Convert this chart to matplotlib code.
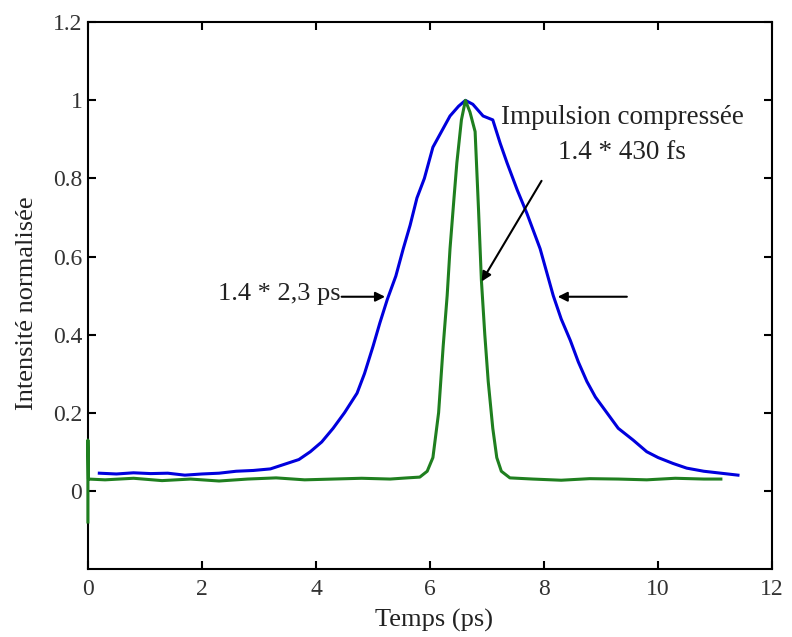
import matplotlib
matplotlib.use("Agg")
import matplotlib.pyplot as plt

plt.rcParams['font.family'] = ['Liberation Serif', 'DejaVu Serif']

# blue: initial pulse
blue_t = [0.2, 0.5, 0.8, 1.1, 1.4, 1.7, 2.0, 2.3, 2.6, 2.9, 3.2, 3.45, 3.7, 3.9, 4.1,
          4.3, 4.5, 4.72, 4.85, 5.0, 5.12, 5.25, 5.4, 5.53, 5.65, 5.77, 5.9, 6.05,
          6.2, 6.35, 6.5, 6.62, 6.75, 6.93, 7.1, 7.23, 7.35, 7.53, 7.7, 7.93, 8.16,
          8.3, 8.46, 8.6, 8.75, 8.9, 9.1, 9.3, 9.56, 9.8, 10.0, 10.26, 10.5, 10.8,
          11.1, 11.4]
blue_y = [0.045, 0.043, 0.046, 0.044, 0.045, 0.04, 0.043, 0.045, 0.05, 0.052, 0.056,
          0.068, 0.08, 0.10, 0.125, 0.16, 0.2, 0.25, 0.30, 0.37, 0.43, 0.49, 0.55,
          0.62, 0.68, 0.75, 0.80, 0.88, 0.92, 0.96, 0.985, 1.0, 0.99, 0.96, 0.95,
          0.89, 0.84, 0.77, 0.71, 0.62, 0.50, 0.44, 0.385, 0.33, 0.28, 0.24, 0.20,
          0.16, 0.13, 0.10, 0.085, 0.07, 0.058, 0.05, 0.045, 0.04]

# green: compressed pulse
green_t = [0.0, 0.0, 0.01, 0.3, 0.8, 1.3, 1.8, 2.3, 2.8, 3.3, 3.8, 4.3, 4.8, 5.3, 5.6,
           5.82, 5.95, 6.05, 6.15, 6.23, 6.3, 6.35, 6.42, 6.47, 6.55, 6.62, 6.7, 6.79,
           6.85, 6.9, 6.96, 7.02, 7.1, 7.17, 7.25, 7.4, 7.8, 8.3, 8.8, 9.3, 9.8, 10.3,
           10.8, 11.1]
green_y = [-0.08, 0.13, 0.03, 0.028, 0.032, 0.026, 0.03, 0.025, 0.03, 0.033, 0.028, 0.03,
           0.032, 0.03, 0.033, 0.035, 0.05, 0.085, 0.2, 0.37, 0.5, 0.62, 0.75, 0.84,
           0.95, 1.0, 0.97, 0.92, 0.72, 0.54, 0.4, 0.28, 0.16, 0.085, 0.05, 0.033, 0.03,
           0.027, 0.031, 0.03, 0.028, 0.032, 0.03, 0.03]

xticks = [0, 2, 4, 6, 8, 10, 12]
yticks = [0, 0.2, 0.4, 0.6, 0.8, 1.0, 1.2]
ylabels = ['0', '0.2', '0.4', '0.6', '0.8', '1', '1.2']

fig = plt.figure(figsize=(7.92, 6.37), dpi=100)
ax = fig.add_axes([0.111, 0.107, 0.864, 0.858])

ax.plot(blue_t, blue_y, color='#0000dd', lw=2.2)
ax.plot(green_t, green_y, color='#1f7f1f', lw=2.2, clip_on=False, zorder=3)

ax.set_xlim(0, 12)
ax.set_ylim(-0.2, 1.2)
ax.set_xticks(xticks)
ax.set_xticklabels([str(v) for v in xticks])
ax.set_yticks(yticks)
ax.set_yticklabels(ylabels)
ax.tick_params(direction='in', length=6, width=1.5, top=True, right=True,
               labelsize=17, colors='#333333')
ax.tick_params(axis='x', pad=7)
ax.tick_params(axis='y', pad=4)
ax.tick_params(color='black')
for s in ax.spines.values():
    s.set_linewidth(1.5)

ax.set_xlabel('Temps (ps)', fontsize=19, color='#222222')
ax.xaxis.set_label_coords(0.506, -0.073)
ax.set_ylabel('Intensité normalisée', fontsize=19, color='#222222')
ax.yaxis.set_label_coords(-0.073, 0.486)

arr = dict(arrowstyle='-|>', color='black', lw=1.5, mutation_scale=14)
ax.text(2.28, 0.505, '1.4 * 2,3 ps', fontsize=19, ha='left', va='center', color='#222222')
ax.annotate('', xy=(5.26, 0.497), xytext=(4.4, 0.497), arrowprops=arr)
ax.annotate('', xy=(8.19, 0.497), xytext=(9.5, 0.497), arrowprops=arr)

ax.text(9.37, 0.956, 'Impulsion compressée', fontsize=19.5, ha='center', va='center',
        color='#222222')
ax.text(9.37, 0.867, '1.4 * 430 fs', fontsize=19.5, ha='center', va='center',
        color='#222222')
ax.annotate('', xy=(6.88, 0.53), xytext=(7.98, 0.8), arrowprops=arr)

fig.savefig('out.png', dpi=100)
